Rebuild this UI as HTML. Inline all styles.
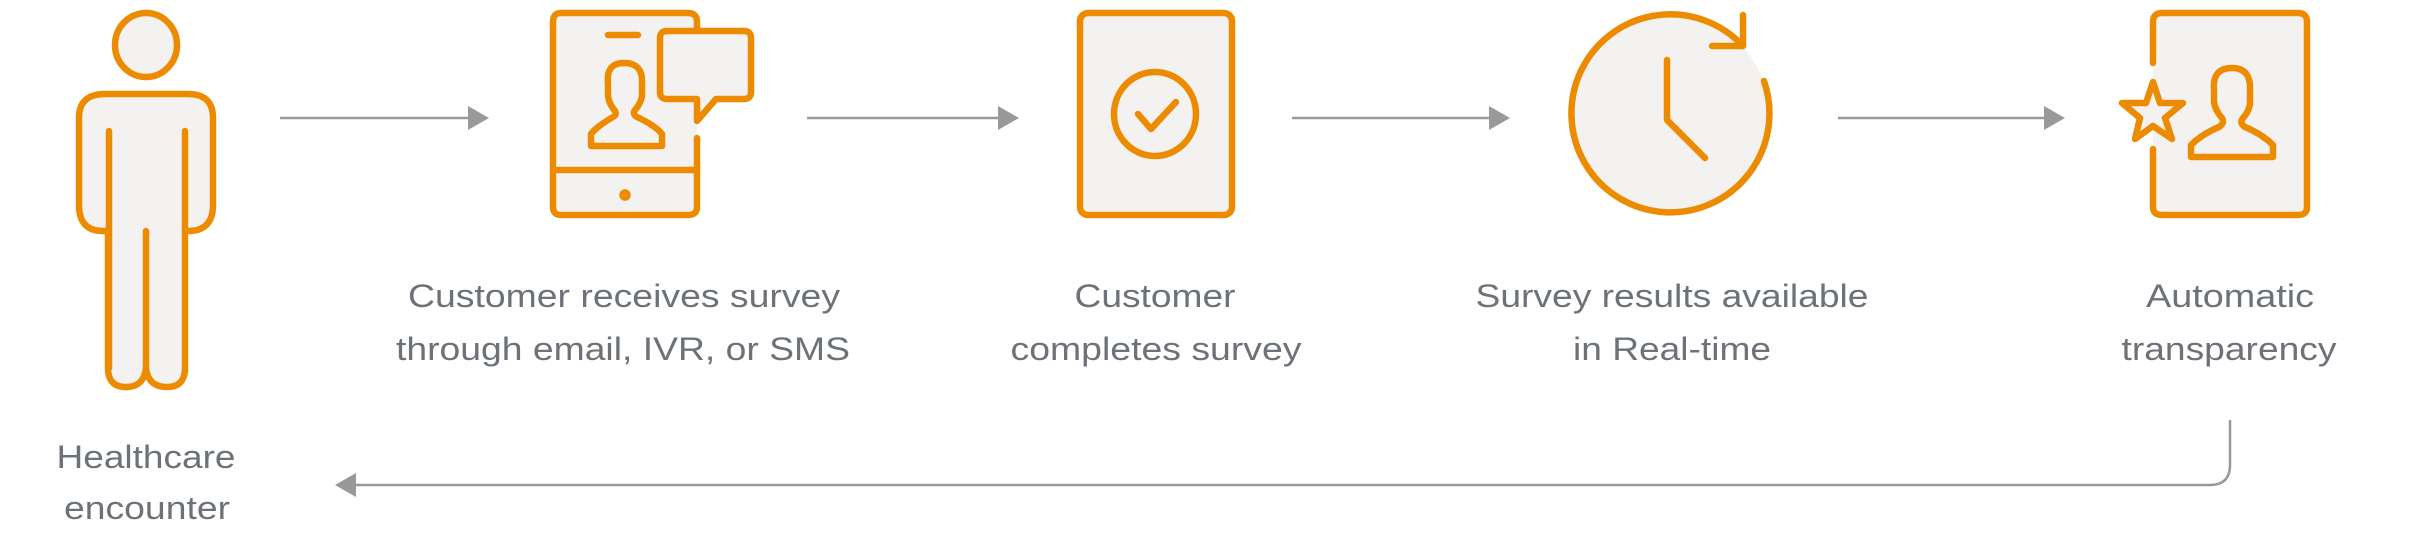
<!DOCTYPE html>
<html><head><meta charset="utf-8"><style>html,body{margin:0;padding:0;background:#fff;}svg{display:block}</style></head>
<body>
<svg width="2417" height="536" viewBox="0 0 2417 536" xmlns="http://www.w3.org/2000/svg">
<g fill="#f3f2f1" stroke="#ed8b00" stroke-width="6.5" stroke-linecap="round" stroke-linejoin="round">
  <!-- person -->
  <ellipse cx="146" cy="45" rx="31" ry="32"/>
  <path d="M108,231 L103,231 Q79,231 79,205 L79,118 Q79,94 105,94 L188,94 Q213,94 213,118 L213,205 Q213,231 188,231 L185,231 L185,368 Q185,387 167,387 Q148,387 146,368 Q144,387 126,387 Q108,387 108,368 Z"/>
  <path d="M109,131 V368 M185,131 V231 M146,231 V370" fill="none"/>
  <!-- phone -->
  <path d="M697,30 V22 Q697,13 688,13 L561,13 Q553,13 553,22 L553,207 Q553,215 561,215 L688,215 Q697,215 697,207 L697,138"/>
  <path d="M553,170 H697" fill="none"/>
  <path d="M608,35 H638" fill="none"/>
  <circle cx="625" cy="195" r="2.5" fill="#ed8b00"/>
  <path d="M667,31 L744,31 Q751,31 751,38 L751,92 Q751,99 744,99 L716,99 L697,121 L697,99 L667,99 Q660,99 660,92 L660,38 Q660,31 667,31 Z"/>
  <path d="M624,63 Q606,63 608,83 L608,96 Q609,104 615,111 Q617,115 613,117 Q596,127 591,134 L591,146 L662,146 L662,134 Q656,126 637,117 Q632,114 635,110 Q641,103 642,96 L642,83 Q643,63 624,63 Z"/>
  <!-- tablet -->
  <rect x="1080" y="13" width="152" height="202" rx="8"/>
  <ellipse cx="1155" cy="114" rx="41" ry="42"/>
  <path d="M1138,114 L1151,129 L1176,102" fill="none"/>
  <!-- clock -->
  <circle cx="1670" cy="114" r="99" stroke="none"/>
  <path d="M1743,46 A99,99 0 1 0 1764,81" fill="none"/>
  <path d="M1743,15 V46 H1712" fill="none"/>
  <path d="M1667,60 V120 L1705,158" fill="none"/>
  <!-- final doc -->
  <path d="M2153,63 V22 Q2153,13 2162,13 L2298,13 Q2307,13 2307,22 L2307,207 Q2307,215 2298,215 L2162,215 Q2153,215 2153,207 L2153,149"/>
  <path d="M2153,82 L2160,103 L2183,103 L2165,118 L2172,139 L2153,126 L2135,139 L2140,118 L2122,103 L2146,103 Z"/>
  <path d="M2232,68 Q2212,68 2214,90 L2214,102 Q2215,110 2222,118 Q2225,123 2219,127 Q2202,134 2191,145 L2191,157 L2273,157 L2273,145 Q2262,134 2245,127 Q2239,123 2243,118 Q2250,110 2250,102 L2250,90 Q2251,68 2232,68 Z"/>
</g>
<!-- arrows -->
<g stroke="#97999b" stroke-width="2.5" fill="none">
  <path d="M280,118 H470"/>
  <path d="M807,118 H1002"/>
  <path d="M1292,118 H1494"/>
  <path d="M1838,118 H2048"/>
  <path d="M2230,420 V465 Q2230,485 2210,485 H352"/>
</g>
<g fill="#97999b">
  <path d="M468,106 L489,118 L468,130 Z"/>
  <path d="M998,106 L1019,118 L998,130 Z"/>
  <path d="M1489,106 L1510,118 L1489,130 Z"/>
  <path d="M2044,106 L2065,118 L2044,130 Z"/>
  <path d="M356,473 L335,485 L356,497 Z"/>
</g>
<g font-family="'Liberation Sans', Arial, sans-serif" font-size="32" fill="#6d7278" text-anchor="middle">
  <text x="624" y="307" textLength="432" lengthAdjust="spacingAndGlyphs">Customer receives survey</text>
  <text x="623" y="360" textLength="454" lengthAdjust="spacingAndGlyphs">through email, IVR, or SMS</text>
  <text x="1155" y="307" textLength="161" lengthAdjust="spacingAndGlyphs">Customer</text>
  <text x="1156" y="360" textLength="291" lengthAdjust="spacingAndGlyphs">completes survey</text>
  <text x="1672" y="307" textLength="393" lengthAdjust="spacingAndGlyphs">Survey results available</text>
  <text x="1672" y="360" textLength="198" lengthAdjust="spacingAndGlyphs">in Real-time</text>
  <text x="2230" y="307" textLength="168" lengthAdjust="spacingAndGlyphs">Automatic</text>
  <text x="2229" y="360" textLength="215" lengthAdjust="spacingAndGlyphs">transparency</text>
  <text x="146" y="468" textLength="179" lengthAdjust="spacingAndGlyphs">Healthcare</text>
  <text x="147" y="519" textLength="166" lengthAdjust="spacingAndGlyphs">encounter</text>
</g>
</svg>
</body></html>
